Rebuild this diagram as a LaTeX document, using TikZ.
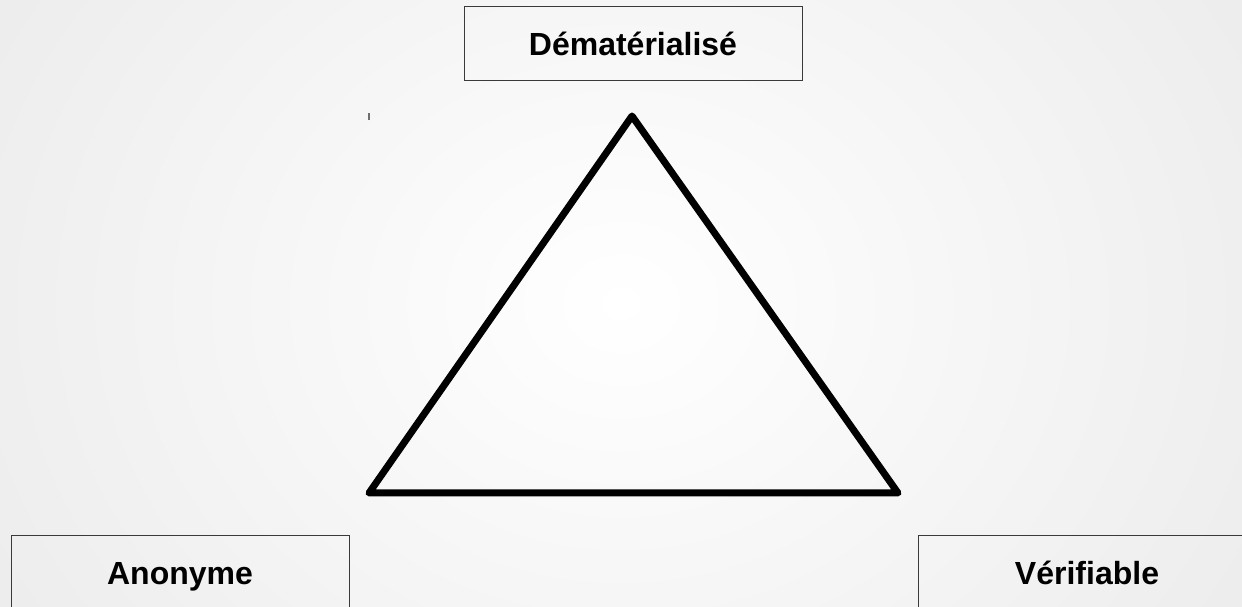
\documentclass[tikz,border=0pt]{standalone}
\usepackage{fontspec}
\setmainfont{Liberation Sans}
\usepackage{xcolor}
\definecolor{Canvas}{HTML}{FFFFFF}
\definecolor{CanvasEdge}{HTML}{ECECEC}
\definecolor{Ink}{HTML}{000000}
\definecolor{BoxLine}{HTML}{3A3A3A}
\definecolor{TickGray}{HTML}{6E6E6E}
\tikzset{propbox/.style={draw=BoxLine,line width=1pt,minimum width=338pt,minimum height=74pt,inner sep=0pt,text height=23pt,text depth=0pt,font=\fontsize{32}{38}\selectfont\bfseries,text=Ink},triedge/.style={draw=Ink,line width=7pt,line join=round,line cap=round}}
\begin{document}
\begin{tikzpicture}[x=1pt,y=1pt]
\useasboundingbox (0,0) rectangle (1242,607);
\clip (0,0) rectangle (1242,607);
\shade[inner color=Canvas,outer color=CanvasEdge] (-120,-320) rectangle (1362,927);
\node[propbox] (dem) at (633,563) {Dématérialisé};
\node[propbox] (ano) at (180,34) {Anonyme};
\node[propbox] (ver) at (1087,34) {Vérifiable};
\coordinate (apex) at (632,491);\coordinate (left) at (369,114);\coordinate (right) at (898,114);
\draw[triedge] (apex)--(left)--(right)--cycle;
\draw[TickGray,line width=1.6pt] (369,487)--(369,494);
\end{tikzpicture}
\end{document}
